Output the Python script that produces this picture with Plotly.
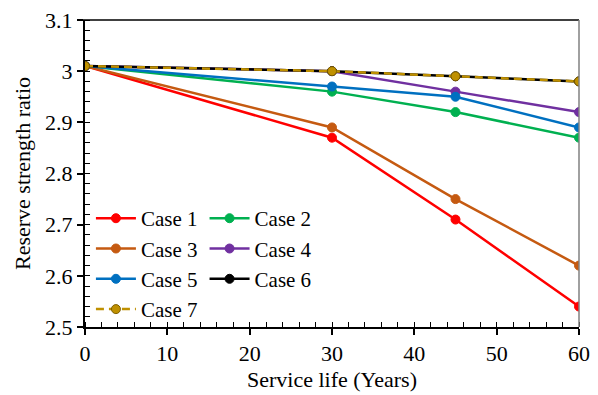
import plotly.graph_objects as go

# Service life (years) at which the reserve strength ratio was evaluated
years = [0, 30, 45, 60]

case_1 = [3.01, 2.87, 2.71, 2.54]
case_2 = [3.01, 2.96, 2.92, 2.87]
case_3 = [3.01, 2.89, 2.75, 2.62]
case_4 = [3.01, 3.00, 2.96, 2.92]
case_5 = [3.01, 2.97, 2.95, 2.89]
case_6 = [3.01, 3.00, 2.99, 2.98]
case_7 = [3.01, 3.00, 2.99, 2.98]

x_ticks = [0, 10, 20, 30, 40, 50, 60]
y_ticks = [2.5, 2.6, 2.7, 2.8, 2.9, 3.0, 3.1]
y_tick_text = ["2.5", "2.6", "2.7", "2.8", "2.9", "3", "3.1"]

FONT = '"Liberation Serif", "Times New Roman", Times, serif'

series = [
    ("Case 1", case_1, "#FF0000", "solid", "legend"),
    ("Case 2", case_2, "#00B050", "solid", "legend2"),
    ("Case 3", case_3, "#C55A11", "solid", "legend"),
    ("Case 4", case_4, "#7030A0", "solid", "legend2"),
    ("Case 5", case_5, "#0070C0", "solid", "legend"),
    ("Case 6", case_6, "#000000", "solid", "legend2"),
    ("Case 7", case_7, "#BF9000", "8px,5px", "legend"),
]

fig = go.Figure()
for name, vals, color, dash, leg in series:
    edge = "#7F6000" if name == "Case 7" else color
    fig.add_trace(go.Scatter(
        x=years, y=vals, name=name, mode="lines+markers",
        line=dict(color=color, width=2.5, dash=dash),
        marker=dict(size=9, color=color, line=dict(color=edge, width=1)),
        legend=leg,
    ))

def serif(size):
    return dict(family=FONT, size=size, color="black")

legend_style = dict(
    font=serif(21),
    bgcolor="rgba(0,0,0,0)", borderwidth=0,
    xanchor="left", yanchor="top", tracegroupgap=0,
    itemwidth=40,
)

fig.update_layout(
    width=598, height=395,
    margin=dict(l=85, r=19, t=20, b=68),
    paper_bgcolor="white", plot_bgcolor="white",
    font=serif(21),
    legend=dict(x=0.012, y=0.42, **legend_style),
    legend2=dict(x=0.242, y=0.42, **legend_style),
    xaxis=dict(
        range=[0, 60], tickvals=x_ticks, showgrid=False, zeroline=False,
        showline=True, linecolor="black", linewidth=2,
        ticks="outside", ticklen=6, tickwidth=1.5, tickcolor="black",
        minor=dict(dtick=2, ticks="inside", ticklen=5, tickwidth=1, tickcolor="black"),
        tickfont=serif(22),
        title=dict(text="Service life (Years)", font=serif(22), standoff=6),
        automargin=False,
    ),
    yaxis=dict(
        range=[2.5, 3.1], tickvals=y_ticks, ticktext=y_tick_text,
        showgrid=False, zeroline=False,
        showline=True, linecolor="black", linewidth=2,
        ticks="outside", ticklen=6, tickwidth=1.5, tickcolor="black",
        minor=dict(dtick=0.02, tick0=2.5, ticks="inside", ticklen=5, tickwidth=1, tickcolor="black"),
        tickfont=serif(22),
        title=dict(text="Reserve strength ratio", font=serif(22), standoff=8),
        automargin=False,
    ),
    shapes=[
        dict(type="line", xref="paper", yref="paper", x0=-0.015, x1=1, y0=1, y1=1,
             line=dict(color="black", width=1.5)),
        dict(type="line", xref="paper", yref="paper", x0=1, x1=1, y0=0, y1=1,
             line=dict(color="#808080", width=1.5)),
    ],
)

fig.write_html("out.html")
